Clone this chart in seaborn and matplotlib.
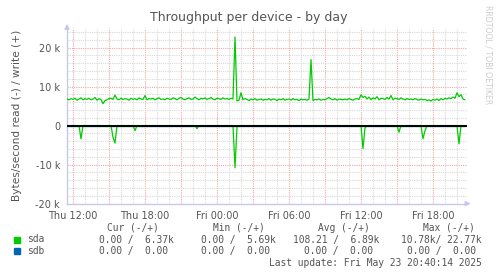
import numpy as np
import pandas as pd
import matplotlib
matplotlib.use("Agg")
import matplotlib.pyplot as plt
import seaborn as sns

# ---- data (10-minute samples, hours relative to Thu 12:00) ----
start_hour = -0.5
step_hour = 1.0 / 6.0
sda_write_k = [
    6.8, 6.6, 6.9, 6.7, 7.0, 6.5, 6.8, 7.1, 6.6, 6.9,
    6.7, 7.0, 6.6, 6.8, 7.2, 6.5, 6.9, 6.7, 5.6, 6.4,
    6.6, 6.9, 7.0, 6.7, 7.8, 6.8, 6.6, 7.0, 6.7, 6.9,
    6.8, 6.5, 7.0, 6.7, 6.9, 6.6, 7.1, 6.8, 6.7, 7.7,
    6.6, 6.9, 6.8, 7.0, 6.6, 6.9, 7.1, 6.7, 6.8, 6.6,
    7.0, 6.8, 6.7, 7.1, 6.9, 6.6, 7.0, 7.2, 6.8, 6.6,
    6.9, 7.1, 6.7, 6.8, 7.3, 6.9, 6.6, 7.0, 6.8, 7.1,
    6.7, 6.9, 7.2, 6.8, 6.6, 7.0, 6.9, 6.7, 7.1, 6.8,
    6.9, 6.7, 7.0, 6.8, 22.7, 6.3, 6.5, 8.4, 6.6, 6.9,
    6.7, 6.4, 6.8, 6.6, 6.9, 6.5, 6.7, 6.8, 6.5, 6.7,
    6.6, 6.9, 6.5, 6.8, 6.7, 6.4, 6.8, 6.6, 6.9, 6.5,
    6.7, 6.8, 6.5, 6.9, 6.6, 6.7, 6.4, 6.8, 6.6, 6.7,
    6.5, 6.8, 16.9, 6.4, 6.7, 6.6, 6.8, 6.5, 6.7, 6.6,
    6.9, 7.2, 6.8, 6.6, 6.9, 6.5, 6.8, 6.7, 6.6, 6.8,
    6.6, 6.9, 6.7, 6.5, 6.8, 6.9, 6.7, 7.9, 7.2, 7.5,
    6.8, 7.3, 6.6, 7.1, 6.8, 7.4, 6.6, 7.0, 6.9, 6.7,
    7.2, 6.8, 7.7, 6.6, 7.0, 6.9, 6.7, 7.1, 6.8, 6.6,
    6.9, 6.7, 6.8, 6.6, 6.9, 6.7, 6.5, 6.8, 6.6, 6.7,
    6.4, 6.6, 6.3, 6.7, 6.5, 6.8, 6.4, 6.9, 6.6, 7.0,
    6.8, 7.1, 6.9, 7.3, 7.0, 8.4, 7.4, 7.9, 6.8, 6.6,
]
sda_read_k = [
    0, 0, 0, 0, 0, 0, 0, 3.4, 0, 0,
    0, 0, 0, 0, 0, 0, 0, 0, 0, 0,
    0, 0, 0, 3.0, 4.5, 0, 0, 0, 0, 0,
    0, 0, 0, 0, 1.3, 0, 0, 0, 0, 0,
    0, 0, 0, 0, 0, 0, 0, 0, 0, 0,
    0, 0, 0, 0, 0, 0, 0, 0, 0, 0,
    0, 0, 0, 0, 0, 0.8, 0, 0, 0, 0,
    0, 0, 0, 0, 0, 0, 0, 0, 0, 0,
    0, 0, 0, 0, 10.8, 0.4, 0, 0, 0, 0,
    0, 0, 0, 0, 0, 0, 0, 0, 0, 0,
    0, 0, 0, 0, 0, 0, 0, 0, 0, 0,
    0, 0, 0, 0, 0, 0, 0, 0, 0, 0,
    0, 0, 0, 0, 0, 0, 0, 0, 0, 0,
    0, 0, 0, 0, 0, 0, 0, 0, 0, 0,
    0, 0, 0, 0, 0, 0, 0, 0, 5.9, 0.6,
    0, 0, 0, 0, 0, 0, 0, 0, 0, 0,
    0, 0, 0, 0, 0, 0, 1.7, 0, 0, 0,
    0, 0, 0, 0, 0, 0, 0, 0, 3.4, 1.3,
    0, 0, 0, 0, 0, 0, 0, 0, 0, 0,
    0, 0, 0, 0, 0, 0, 4.7, 0, 0, 0,
]
xtick_hours = [0, 6, 12, 18, 24, 30]
xtick_labels = ["Thu 12:00", "Thu 18:00", "Fri 00:00", "Fri 06:00", "Fri 12:00", "Fri 18:00"]
ytick_values = [-20000, -10000, 0, 10000, 20000]
ytick_labels = ["-20 k", "-10 k", "0", "10 k", "20 k"]
legend_names = ["sda", "sdb"]
legend_colors = ["#00CC00", "#0066B3"]
col_headers = ["Cur (-/+)", "Min (-/+)", "Avg (-/+)", "Max (-/+)"]
sda_stats = ["0.00 /  6.37k", "0.00 /  5.69k", "108.21 /  6.89k", "10.78k/ 22.77k"]
sdb_stats = ["0.00 /  0.00", "0.00 /  0.00", "0.00 /  0.00", "0.00 /  0.00"]
last_update = "Last update: Fri May 23 20:40:14 2025"

n = len(sda_write_k)
hours = [start_hour + i * step_hour for i in range(n)]
df = pd.DataFrame({
    "hour": hours + hours,
    "value": [v * 1000 for v in sda_write_k] + [-v * 1000 for v in sda_read_k],
    "dir": ["write"] * n + ["read"] * n,
})
df_sdb = pd.DataFrame({"hour": hours, "value": [0.0] * n})

sns.set_theme(style="white")
plt.rcParams["font.family"] = ["DejaVu Sans"]

W, H = 497, 276
fig = plt.figure(figsize=(W / 100, H / 100), dpi=100, facecolor="white")
x0, x1, ytop, ybot = 67, 467, 28, 203.6
ax = fig.add_axes([x0 / W, 1 - ybot / H, (x1 - x0) / W, (ybot - ytop) / H])
ax.set_facecolor("white")

xmin = start_hour
xmax = start_hour + (x1 - x0) / 12.0
ax.set_xlim(xmin, xmax)
ax.set_ylim(-20000, 25000)

minor_c = "#d9d9d9"
major_c = "#f0a8a8"
dot = (0, (1, 1))
for h in range(0, 33):
    if h % 3 != 0:
        ax.axvline(h, color=minor_c, lw=0.8, ls=dot, zorder=1)
for h in range(0, 33, 3):
    ax.axvline(h, color=major_c, lw=0.8, ls=dot, zorder=1)
for yv in range(-18000, 25000, 2000):
    if yv % 10000 != 0:
        ax.axhline(yv, color=minor_c, lw=0.8, ls=dot, zorder=1)
for yv in [-10000, 10000, 20000]:
    ax.axhline(yv, color=major_c, lw=0.8, ls=dot, zorder=1)

sns.lineplot(data=df_sdb, x="hour", y="value", color=legend_colors[1], lw=1,
             ax=ax, legend=False, zorder=3)
sns.lineplot(data=df, x="hour", y="value", units="dir", estimator=None,
             color=legend_colors[0], lw=0.9, ax=ax, legend=False, zorder=4)
ax.axhline(0, color="black", lw=1.4, zorder=5)

for s in ["top", "right"]:
    ax.spines[s].set_visible(False)
for s in ["left", "bottom"]:
    ax.spines[s].set_color("#c8c8ee")
    ax.spines[s].set_linewidth(1)
ax.annotate("", xy=(0, 1.04), xytext=(0, 0.99), xycoords="axes fraction",
            arrowprops=dict(arrowstyle="-|>", color="#c8c8ee", lw=1, mutation_scale=7))
ax.annotate("", xy=(1.016, 0), xytext=(0.99, 0), xycoords="axes fraction",
            arrowprops=dict(arrowstyle="-|>", color="#c8c8ee", lw=1, mutation_scale=7))

txt_c = "#555555"
ax.set_xticks(xtick_hours)
ax.set_xticklabels(xtick_labels, fontsize=7, color=txt_c)
ax.set_yticks(ytick_values)
ax.set_yticklabels(ytick_labels, fontsize=7, color=txt_c)
ax.tick_params(axis="both", length=2, width=0.8, color=major_c, pad=3)
ax.set_xlabel("")
ax.set_ylabel("Bytes/second read (-) / write (+)", fontsize=7.6, color=txt_c, labelpad=10)


def ftext(xp, yp, s, **kw):
    fig.text(xp / W, 1 - yp / H, s, **kw)


ftext(249, 17, "Throughput per device - by day", fontsize=9, color=txt_c,
      ha="center", va="center")
ftext(488, 5, "RRDTOOL / TOBI OETIKER", fontsize=5.6, color="#cccccc",
      rotation=270, ha="center", va="top")

mono = dict(family="DejaVu Sans Mono", fontsize=6.9, color=txt_c, va="center")
header_x = [107, 213, 318, 423]
for hx, s in zip(header_x, col_headers):
    ftext(hx, 228, s, **mono)
row_y = [239.5, 251]
sda_x = [99, 201, 293, 401]
sdb_x = [99, 201, 304, 407]
for i, (name, col) in enumerate(zip(legend_names, legend_colors)):
    yy = row_y[i]
    fig.patches.append(plt.Rectangle((14 / W, 1 - (yy + 3) / H), 6 / W, 6 / H,
                                     transform=fig.transFigure, color=col))
    ftext(27, yy, name, **mono)
stats_rows = [(sda_stats, sda_x), (sdb_stats, sdb_x)]
for i, (vals, xs) in enumerate(stats_rows):
    for xp, s in zip(xs, vals):
        ftext(xp, row_y[i], s, **mono)
ftext(482, 263, last_update, ha="right", **mono)

fig.savefig("out.png", dpi=100, facecolor="white")
